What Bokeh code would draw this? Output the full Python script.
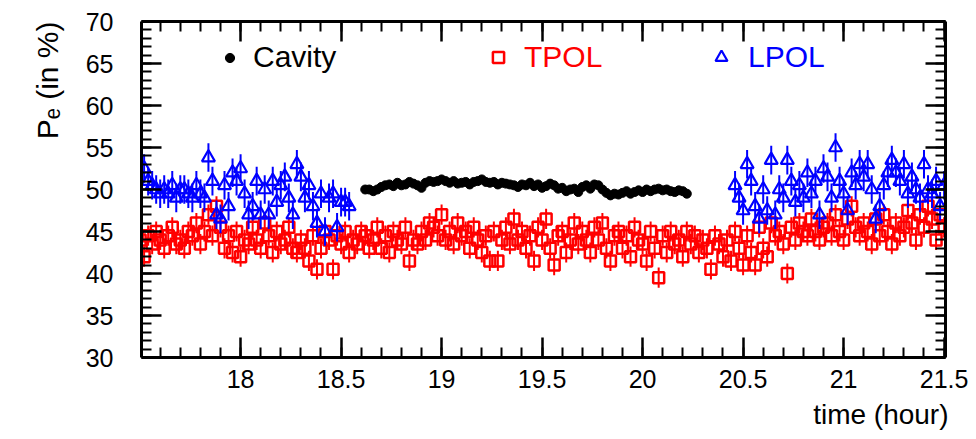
import numpy as np
from bokeh.plotting import figure
from bokeh.models import (Range1d, LinearAxis, SingleIntervalTicker, NumeralTickFormatter,
                          ColumnDataSource, Legend, LegendItem, CustomLabelingPolicy, Title)
from bokeh.embed import file_html
from bokeh.resources import INLINE

# ---------------- data ----------------
tpol_start, tpol_step = 17.50, 0.02
tpol_vals = [
    44.0, 42.0, 44.5, 43.5, 45.0, 44.0, 43.0, 44.5, 45.5, 43.5,
    44.0, 43.0, 45.0, 44.5, 46.0, 43.5, 45.0, 47.0, 44.5, 48.0,
    45.5, 43.0, 44.5, 42.5, 45.0, 42.0, 44.0, 43.5, 45.5, 44.0,
    43.0, 46.0, 44.5, 42.5, 45.0, 43.5, 44.0, 45.5, 43.0, 42.5,
    44.0, 43.0, 41.5, 44.5, 40.5, 43.0, 45.0, 44.0, 40.5, 44.5,
    43.5, 45.0, 42.5, 44.0, 43.5, 45.0, 44.5, 43.0, 44.0, 45.5,
    43.0, 44.5, 42.5, 45.0, 44.0, 43.5, 45.5, 41.5, 44.0, 43.5,
    45.0, 44.0, 46.0, 45.5, 44.5, 47.0, 44.0, 45.0, 43.5, 46.0,
    44.5, 45.0, 43.0, 45.5, 44.0, 42.5, 44.5, 41.5, 45.0, 41.5,
    44.0, 45.5, 43.5, 46.5, 44.0, 45.0, 43.0, 44.5, 41.5, 45.5,
    44.0, 46.5, 43.0, 41.0, 44.5, 45.0, 42.5, 44.0, 46.0, 43.5,
    45.0, 44.0, 42.5, 45.5, 44.0, 46.0, 43.0, 41.5, 44.5, 45.0,
    43.0, 44.5, 42.0, 45.5, 44.0, 43.5, 41.5, 45.0, 43.0, 39.5,
    44.5, 42.5, 45.0, 43.5, 44.0, 42.0, 45.0, 43.5, 44.5, 42.5,
    44.0, 43.0, 40.5, 44.5, 43.5, 42.0, 44.0, 41.5, 45.0, 43.0,
    41.0, 44.5, 42.5, 41.0, 45.5, 43.0, 42.0, 46.0, 44.5, 45.0,
    43.5, 40.0, 45.5, 44.0, 46.0, 45.0, 44.5, 46.5, 45.0, 44.0,
    45.5, 46.0, 44.5, 47.0, 45.0, 44.0, 46.5, 48.0, 45.5, 44.5,
    46.0, 45.0, 43.5, 46.5, 44.5, 47.0, 45.0, 43.5, 46.0, 44.5,
    45.5, 47.5, 46.0, 44.0, 47.0, 45.5, 48.0, 46.5, 44.0, 47.0,
    45.5,
]
tpol_err = 1.2

lpol_step = 0.02
lpol1_start = 17.52
lpol1_vals = [
    52.5, 51.0, 50.5, 50.0, 49.5, 50.0, 49.5, 50.5, 49.0, 50.0,
    50.0, 49.5, 49.0, 50.5, 49.5, 49.0, 53.8, 51.0, 47.0, 46.5,
    50.5, 48.0, 52.0, 51.0, 52.5, 49.5, 47.0, 48.0, 51.0, 47.0,
    50.0, 47.0, 51.0, 48.5, 50.5, 51.5, 49.0, 47.0, 53.0, 51.5,
    49.0, 50.5, 48.0, 46.0, 49.5, 45.0, 49.0, 49.5, 45.5, 48.5,
    48.5, 48.0,
]
lpol2_start = 20.46
lpol2_vals = [
    50.5, 49.0, 47.5, 53.0, 51.0, 48.0, 46.5, 50.0, 47.5, 53.5,
    47.0, 50.0, 49.0, 53.5, 51.0, 48.5, 50.5, 49.0, 52.0, 49.5,
    51.0, 47.0, 52.5, 51.5, 49.0, 55.0, 51.0, 49.5, 47.5, 52.0,
    50.5, 53.0, 51.5, 53.0, 50.0, 46.5, 48.0, 50.5, 52.0, 53.5,
    52.0, 51.0, 53.0, 49.5, 51.5, 50.0, 49.0, 53.0, 50.0, 49.5,
    51.0, 48.0, 50.5,
]
lpol_err = 1.7

cav_start, cav_step = 18.62, 0.02
cav_vals = [
    50.0, 50.0, 49.8, 50.0, 50.3, 50.5, 50.6, 50.4, 50.8, 50.5,
    50.6, 50.9, 50.7, 50.5, 50.2, 50.8, 51.0, 50.9, 51.0, 51.2,
    51.0, 50.8, 51.0, 50.7, 50.8, 50.9, 50.6, 50.9, 51.0, 51.2,
    50.9, 50.8, 50.9, 50.6, 50.8, 50.7, 50.6, 50.5, 50.3, 50.6,
    50.5, 50.8, 50.4, 50.6, 50.2, 50.4, 50.7, 50.5, 50.1, 50.2,
    49.8, 50.0, 50.1, 49.7, 50.3, 50.5, 50.1, 50.6, 50.5, 50.0,
    49.6, 49.3, 49.5, 49.4, 49.6, 49.8, 49.5, 49.7, 49.9, 49.7,
    50.0, 49.8, 50.0, 50.1, 49.9, 50.0, 49.8, 49.7, 49.9, 49.8,
    49.5,
]

x_ticks_step, x_minor = 0.5, 5
y_ticks_step, y_minor = 5, 5
x_lo, x_hi = 17.507, 21.507
y_lo, y_hi = 30, 70

x_title = "time (hour)"
y_title = "P\u2091 (in %)"

FONT = "Liberation Sans"


def series(start, step, vals, err):
    t = start + step * np.arange(len(vals))
    v = np.array(vals, dtype=float)
    return ColumnDataSource(dict(t=t, v=v, lo=v - err, hi=v + err))


src_t = series(tpol_start, tpol_step, tpol_vals, tpol_err)
src_l1 = series(lpol1_start, lpol_step, lpol1_vals, lpol_err)
src_l2 = series(lpol2_start, lpol_step, lpol2_vals, lpol_err)
src_c = series(cav_start, cav_step, cav_vals, 0.0)

p = figure(width=976, height=439, output_backend="svg", toolbar_location=None,
           x_range=Range1d(x_lo, x_hi), y_range=Range1d(y_lo, y_hi),
           x_axis_location=None, y_axis_location=None,
           min_border_left=141, min_border_right=31,
           min_border_top=21, min_border_bottom=82)
p.outline_line_color = None
p.grid.visible = False
p.background_fill_color = "white"
p.border_fill_color = "white"


def style(ax, labels):
    ax.axis_line_width = 3
    ax.axis_line_color = "black"
    ax.major_tick_in = 20
    ax.major_tick_out = 0
    ax.minor_tick_in = 10
    ax.minor_tick_out = 0
    ax.major_tick_line_width = 2.5
    ax.minor_tick_line_width = 2
    ax.major_tick_line_color = "black"
    ax.minor_tick_line_color = "black"
    ax.major_label_text_font = FONT
    ax.major_label_text_color = "black"
    if labels:
        ax.major_label_text_font_size = "25px"
    else:
        ax.major_label_text_font_size = "0px"
        ax.major_label_standoff = 0
        ax.major_label_policy = CustomLabelingPolicy(code="return []")


for loc in ("below", "above"):
    ax = LinearAxis(ticker=SingleIntervalTicker(interval=x_ticks_step, num_minor_ticks=x_minor),
                    formatter=NumeralTickFormatter(format="0[.]0"))
    style(ax, loc == "below")
    if loc == "below":
        ax.major_label_standoff = 12
    p.add_layout(ax, loc)

for loc in ("left", "right"):
    ax = LinearAxis(ticker=SingleIntervalTicker(interval=y_ticks_step, num_minor_ticks=y_minor))
    style(ax, loc == "left")
    if loc == "left":
        ax.major_label_standoff = 28
    p.add_layout(ax, loc)

p.add_layout(Title(text=x_title, align="right", offset=-3, standoff=12,
                   text_font=FONT, text_font_size="28px", text_font_style="normal",
                   text_color="black"), "below")
p.add_layout(Title(text=y_title, align="right", offset=0, standoff=38,
                   text_font=FONT, text_font_size="30px", text_font_style="normal",
                   text_color="black"), "left")

RED = "#ff0000"
BLUE = "#0000ff"

# TPOL
p.segment(x0="t", y0="lo", x1="t", y1="hi", source=src_t, line_color=RED, line_width=2)
r_t = p.scatter("t", "v", source=src_t, marker="square", size=11, fill_color=None,
                line_color=RED, line_width=2.5)
# LPOL
for s in (src_l1, src_l2):
    p.segment(x0="t", y0="lo", x1="t", y1="hi", source=s, line_color=BLUE, line_width=2)
r_l = p.scatter("t", "v", source=src_l1, marker="triangle", size=13, fill_color=None,
                line_color=BLUE, line_width=2.2)
p.scatter("t", "v", source=src_l2, marker="triangle", size=13, fill_color=None,
          line_color=BLUE, line_width=2.2)
# Cavity
r_c = p.scatter("t", "v", source=src_c, marker="circle", size=9, fill_color="black",
                line_color="black")


def make_legend(label, rend, color, x0, gw):
    return Legend(items=[LegendItem(label=label, renderers=[rend])],
                  location=(x0, 283), glyph_width=gw, glyph_height=gw,
                  label_standoff=12, label_text_font=FONT, label_text_font_size="30px",
                  label_text_color=color, padding=0, margin=0, spacing=0,
                  border_line_color=None, background_fill_alpha=0)


p.add_layout(make_legend("Cavity", r_c, "black", 77, 23))
p.add_layout(make_legend("TPOL", r_t, RED, 343, 28))
p.add_layout(make_legend("LPOL", r_l, BLUE, 565, 30))

open("out.html", "w").write(file_html(p, INLINE))
